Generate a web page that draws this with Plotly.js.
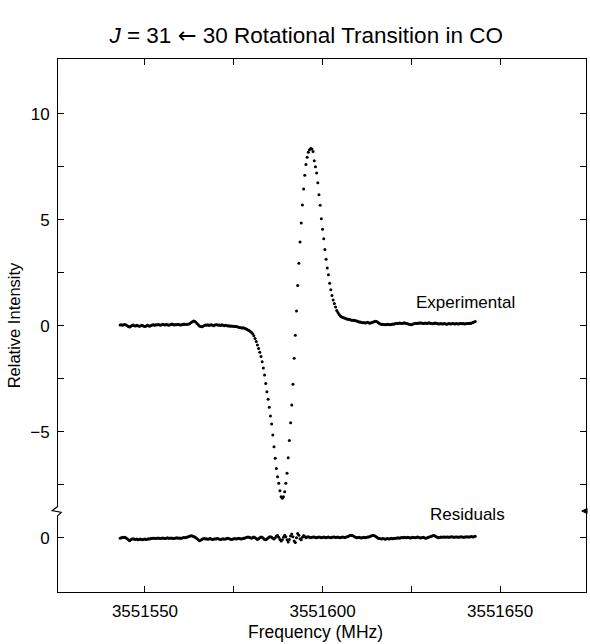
<!DOCTYPE html>
<html>
<head>
<meta charset="utf-8">
<script src="https://cdn.plot.ly/plotly-3.0.1.min.js"></script>
<style>html,body{margin:0;padding:0;background:#fff;}</style>
</head>
<body>
<div id="chart" style="width:590px;height:644px;"></div>
<script>
// Sampling grid (MHz): first sample and spacing
const freqStart = 3551543;
const freqStep = 1 / 3;

// Experimental spectrum (relative intensity), one value per sample
const experimental = [
  0.03, 0.05, 0.02, 0.04,
  0.06, 0.03, 0.0, -0.04, -0.06,
  -0.02, 0.01, 0.03, 0.0,
  -0.01, 0.02, 0.0, -0.03, -0.01, 0.02, 0.01, -0.02, -0.04, -0.01, 0.02, 0.0, -0.02, 0.01, 0.03,
  0.04, 0.02, 0.05, 0.03, 0.06, 0.04, 0.02, 0.05, 0.07, 0.04,
  0.03, 0.06, 0.05, 0.02, 0.04, 0.06, 0.08, 0.05, 0.03, 0.06,
  0.04, 0.07, 0.05, 0.03, 0.04, 0.06, 0.08, 0.06, 0.06, 0.07,
  0.08, 0.11, 0.15, 0.19, 0.22, 0.21, 0.16, 0.1, 0.04, -0.01, -0.04,
  -0.05, -0.02, 0.01, 0.03,
  0.02, 0.04, 0.01, 0.03, 0.05, 0.02, 0.0, 0.03, 0.05, 0.04,
  0.02, 0.03, 0.01, 0.04, 0.02, 0.0, 0.02, 0.01, -0.01, 0.0,
  -0.02, -0.01, -0.03, -0.02, -0.04, -0.04,
  -0.05, -0.07, -0.09, -0.1, -0.11, -0.1, -0.12, -0.14, -0.17, -0.2,
  -0.23, -0.27, -0.32, -0.38, -0.47, -0.6, -0.75, -0.91, -1.08, -1.25,
  -1.45, -1.7, -2.0, -2.33, -2.72, -3.11, -3.47, -3.85, -4.26, -4.64,
  -5.16, -5.71, -6.25, -6.73, -7.12, -7.43, -7.78, -8.07, -8.14,
  -8.07, -7.83, -7.43, -6.96, -6.23, -5.42, -4.58, -3.74, -2.76, -1.54,
  -0.45, 0.69, 1.9, 2.95, 3.95, 4.85, 5.69, 6.45, 7.1, 7.6,
  7.95, 8.18, 8.3, 8.36,
  8.34, 8.22, 7.78, 7.5, 7.2, 6.74, 6.18, 5.68, 5.05, 4.55,
  4.1, 3.6, 3.13, 2.72, 2.4, 2.0, 1.7, 1.42, 1.21, 1.05,
  0.88, 0.72, 0.62, 0.53, 0.46, 0.42, 0.39, 0.37, 0.35, 0.33,
  0.31, 0.3, 0.29, 0.27, 0.26, 0.26, 0.25, 0.23, 0.22,
  0.2, 0.18, 0.17, 0.15, 0.14, 0.15, 0.13, 0.14, 0.16, 0.14, 0.12, 0.14, 0.16, 0.18, 0.2, 0.21,
  0.19, 0.15, 0.11, 0.08, 0.06, 0.07, 0.05, 0.06,
  0.05, 0.07, 0.06, 0.04, 0.06, 0.08, 0.07, 0.09, 0.1, 0.12, 0.11,
  0.13, 0.12, 0.1, 0.12, 0.14, 0.12, 0.11, 0.09, 0.07, 0.06, 0.05,
  0.07, 0.09, 0.11, 0.12, 0.11, 0.13,
  0.12, 0.14, 0.12, 0.1, 0.12, 0.13, 0.11, 0.12, 0.14, 0.12, 0.1, 0.09,
  0.11, 0.13, 0.12, 0.1, 0.08, 0.09, 0.1, 0.08,
  0.09, 0.1, 0.08, 0.07, 0.09, 0.1, 0.08, 0.09, 0.11, 0.09, 0.08, 0.1,
  0.09, 0.08, 0.1, 0.11, 0.09, 0.1, 0.08, 0.09, 0.1, 0.11, 0.12, 0.11, 0.13, 0.15, 0.18, 0.2
];

// Residuals (experimental minus fit), one value per sample
const residuals = [
  -0.03, 0.0, 0.02, 0.01, 0.02, -0.01, -0.05, -0.1, -0.14, -0.1, -0.06, -0.05,
  -0.07, -0.08, -0.06, -0.09, -0.08, -0.06, -0.08, -0.1, -0.07, -0.06, -0.08, -0.07, -0.05, -0.06, -0.04, -0.03,
  -0.03, -0.02, -0.04, -0.03, -0.01, -0.03, -0.04, -0.02, -0.01, -0.03,
  -0.04, -0.02, 0.0, -0.02, -0.03, -0.01, -0.02, -0.04, -0.03, -0.01,
  0.0, -0.02, -0.01, -0.03, -0.02, 0.0, 0.01, 0.0, 0.02, 0.04,
  0.06, 0.08, 0.09, 0.08, 0.06, 0.04, 0.0, -0.05, -0.1, -0.14, -0.12, -0.08, -0.05, -0.04, -0.06,
  -0.05, -0.07, -0.06, -0.04, -0.06, -0.08, -0.07, -0.05, -0.06, -0.04,
  -0.05, -0.07, -0.08, -0.06, -0.05, -0.07, -0.06, -0.04, -0.03, -0.05,
  -0.06, -0.08, -0.07, -0.05, -0.04, -0.06, -0.05, -0.03, -0.04, -0.06,
  -0.05, -0.03, -0.02, 0.0, 0.02,
  0.03, 0.02, 0.0, -0.02, 0.01, 0.03, 0.0, -0.04, -0.08, -0.05,
  0.0, 0.04, 0.02, -0.03, -0.08, -0.1, -0.06, -0.01, 0.03, 0.05,
  0.02, -0.02, -0.06,
  0.0, 0.08, 0.1, 0.02, -0.08, -0.15, -0.1, 0.02, 0.12, 0.05,
  -0.1, -0.2, -0.08, 0.08, 0.18, 0.05, -0.15, -0.22, 0.0, 0.2,
  0.12, -0.05, -0.1, 0.02, 0.1, 0.06, 0.0, 0.03, 0.05, 0.02,
  0.0, 0.02, 0.04, 0.03, 0.01, 0.0, 0.02, 0.04, 0.02, 0.0,
  0.01, 0.03, 0.02, 0.0, 0.02, 0.03, 0.01, 0.0, 0.02, 0.04,
  0.03, 0.01, 0.02, 0.03, 0.01, 0.0, 0.02, 0.03, 0.02, 0.01,
  0.03, 0.05, 0.07, 0.1, 0.12, 0.11, 0.08, 0.05, 0.02, 0.0,
  0.01, 0.02, 0.0, -0.01, 0.01, 0.02, 0.0, 0.01, 0.03, 0.04,
  0.06, 0.08, 0.1, 0.11, 0.09, 0.06, 0.02, -0.02, -0.04, -0.05,
  -0.06, -0.04, -0.05, -0.07, -0.05,
  -0.04, -0.06, -0.05, -0.03, -0.05, -0.04, -0.02, -0.03, -0.01, 0.0,
  -0.02, 0.0, 0.01, 0.0, 0.02,
  0.01, 0.0, 0.02, 0.01, -0.01, 0.0, 0.02, 0.01, 0.0, 0.01,
  0.03, 0.02, 0.0, -0.01, 0.01, 0.02, 0.0, -0.02, -0.01, 0.01,
  0.03, 0.05,
  0.07, 0.09, 0.1, 0.08, 0.05, 0.02, 0.0, 0.01, 0.03, 0.02,
  0.04, 0.03, 0.02,
  0.03, 0.04, 0.02, 0.03, 0.05, 0.04, 0.02, 0.03, 0.04, 0.03,
  0.02, 0.04, 0.05, 0.03, 0.02, 0.04, 0.03, 0.05, 0.04, 0.03,
  0.05, 0.06, 0.04, 0.05, 0.07
];

// Residual panel baseline on the shared (broken) axis
const residualBaseline = -10;

// Tick labels
const xTickVals = [3551550, 3551600, 3551650];
const xTickText = ['3551550', '3551600', '3551650'];
const xMinorVals = [3551575, 3551625];
const yTickVals = [10, 5, 0, -5, -10];
const yTickText = ['10', '5', '0', '\u22125', '0'];
const yMinorVals = [7.5, 2.5, -2.5, -7.5];
const yBreak = -8.74;

const freqExp = experimental.map((_, i) => freqStart + i * freqStep);
const freqRes = residuals.map((_, i) => freqStart + i * freqStep);
const resPlot = residuals.map(v => v + residualBaseline);

const FONT = 'Liberation Sans, Arial, Helvetica, sans-serif';

const traces = [
  {x: freqExp, y: experimental, type: 'scatter', mode: 'markers',
   marker: {color: '#000', size: 3}, hoverinfo: 'skip'},
  {x: freqRes, y: resPlot, type: 'scatter', mode: 'markers',
   marker: {color: '#000', size: 3}, hoverinfo: 'skip'}
];

const layout = {
  width: 590, height: 644,
  margin: {l: 58, r: 4, t: 59, b: 52},
  paper_bgcolor: '#fff', plot_bgcolor: '#fff',
  font: {family: FONT, color: '#000', size: 17},
  showlegend: false,
  title: {
    text: '<i>J</i> = 31 <span style="font-family:DejaVu Sans">\u2190</span> 30 Rotational Transition in CO',
    font: {size: 22.5, family: FONT, color: '#000'},
    xref: 'container', x: 0.519, xanchor: 'center',
    yref: 'container', y: 1 - 35 / 644, yanchor: 'middle'
  },
  xaxis: {
    range: [3551525.5, 3551674.2],
    tickmode: 'array', tickvals: xTickVals, ticktext: xTickText,
    ticks: 'inside', ticklen: 6, tickwidth: 1, tickcolor: '#000',
    showline: true, linecolor: '#000', linewidth: 1, mirror: 'ticks',
    showgrid: false, zeroline: false,
    tickfont: {size: 17}, ticklabelstandoff: 4,
    minor: {tickmode: 'array', tickvals: xMinorVals, ticks: 'inside', ticklen: 6, tickcolor: '#000', showgrid: false}
  },
  yaxis: {
    range: [-12.56, 12.58],
    tickmode: 'array', tickvals: yTickVals, ticktext: yTickText,
    ticks: 'inside', ticklen: 6, tickwidth: 1, tickcolor: '#000',
    showline: true, linecolor: '#000', linewidth: 1, mirror: 'ticks',
    showgrid: false, zeroline: false,
    tickfont: {size: 17}, ticklabelstandoff: 4,
    minor: {tickmode: 'array', tickvals: yMinorVals, ticks: 'inside', ticklen: 6, tickcolor: '#000', showgrid: false},
    title: {text: 'Relative Intensity', font: {size: 16.5}, standoff: 5}
  },
  annotations: [
    {x: 3551640.3, y: 1.08, xref: 'x', yref: 'y', text: 'Experimental', showarrow: false,
     font: {size: 17}, xanchor: 'center', yanchor: 'middle'},
    {x: 3551640.9, y: -8.9, xref: 'x', yref: 'y', text: 'Residuals', showarrow: false,
     font: {size: 17}, xanchor: 'center', yanchor: 'middle'},
    {x: 0.4886, y: -0.075, xref: 'paper', yref: 'paper', text: 'Frequency (MHz)', showarrow: false,
     font: {size: 17.5}, xanchor: 'center', yanchor: 'middle'}
  ],
  shapes: [
    // left axis break
    {type: 'rect', xref: 'paper', yref: 'y', x0: -0.006, x1: 0.006, y0: yBreak + 0.2, y1: yBreak - 0.2,
     fillcolor: '#fff', line: {width: 0}, layer: 'above'},
    {type: 'path', xref: 'paper', yref: 'y', layer: 'above',
     path: `M 0 ${yBreak + 0.22} L -0.011 ${yBreak + 0.02} L 0.006 ${yBreak - 0.06} L 0 ${yBreak - 0.22}`,
     line: {color: '#000', width: 1.2}},
    // right axis break marker
    {type: 'path', xref: 'paper', yref: 'y', layer: 'above',
     path: `M 1.002 ${yBreak + 0.12} L 0.992 ${yBreak} L 1.002 ${yBreak - 0.12} Z`,
     fillcolor: '#000', line: {color: '#000', width: 1}}
  ]
};

Plotly.newPlot('chart', traces, layout, {displayModeBar: false, staticPlot: true});
</script>
</body>
</html>
